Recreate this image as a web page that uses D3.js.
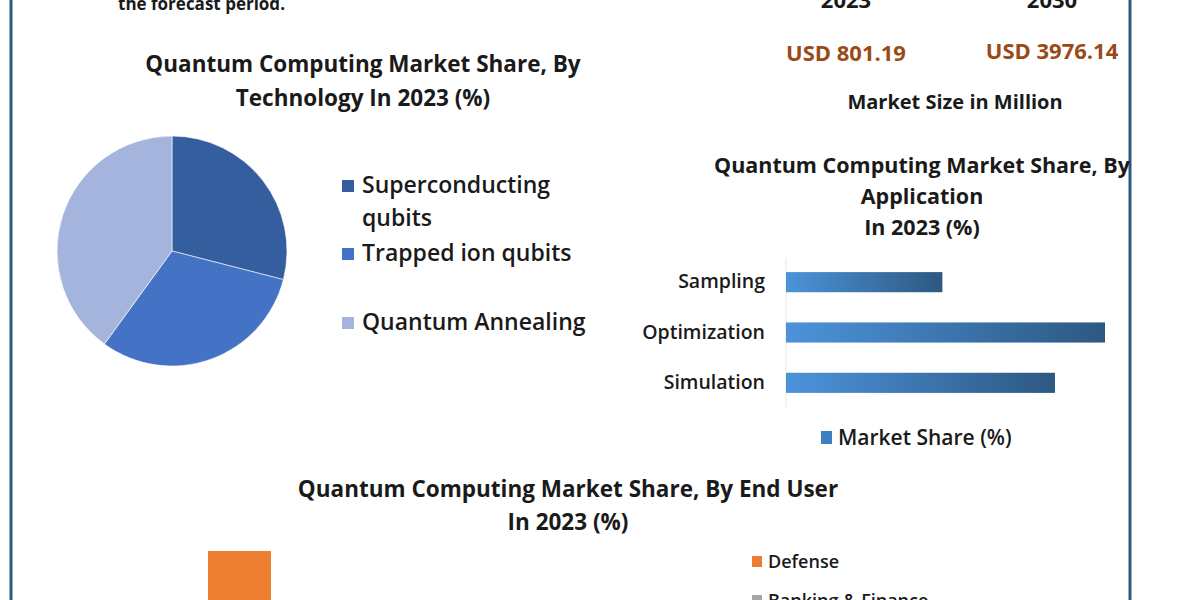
<!DOCTYPE html>
<html>
<head>
<meta charset="utf-8">
<script src="https://cdn.jsdelivr.net/npm/d3@7"></script>
<style>
  body { margin: 0; background: #fff; }
  svg { display: block; font-family: "Open Sans", sans-serif; }
</style>
</head>
<body>
<svg id="chart" width="1200" height="600"></svg>
<script>
// Technology pie
const techNames = ["Superconducting qubits", "Trapped ion qubits", "Quantum Annealing"];
const techShare = [29, 31, 40];
const techColors = ["#345e9e", "#4472c4", "#a5b4dc"];

// Application bars
const appNames = ["Sampling", "Optimization", "Simulation"];
const appShare = [25, 51, 43];

// End user (only the top of the chart is visible)
const userNames = ["Defense", "Banking & Finance"];
const userShare = [38, 22];
const userColors = ["#ed7d31", "#a5a5a5"];

const sizeYears = ["2023", "2030"];
const sizeValues = ["USD 801.19", "USD 3976.14"];

const svg = d3.select("#chart");

// frame lines on the sides
svg.append("line").attr("x1", 11).attr("x2", 11).attr("y1", 0).attr("y2", 600)
  .attr("stroke", "#2b5a7e").attr("stroke-width", 3);
svg.append("line").attr("x1", 1130).attr("x2", 1130).attr("y1", 0).attr("y2", 600)
  .attr("stroke", "#2b5a7e").attr("stroke-width", 3);

function text(x, y, s, size, opts = {}) {
  return svg.append("text")
    .attr("x", x).attr("y", y)
    .attr("font-size", size)
    .attr("font-weight", opts.weight || "bold")
    .attr("fill", opts.fill || "#1a1a1a")
    .attr("text-anchor", opts.anchor || "start")
    .text(s);
}

// top text (cut off in the reference as well)
text(118, 10, "the forecast period.", 17);
sizeYears.forEach((y, i) => text([846, 1052][i], 8, y, 22, { anchor: "middle" }));
sizeValues.forEach((v, i) => text([846, 1052][i], [61, 59][i], v, 22, { anchor: "middle", fill: "#9b4a17" }));
text(955, 109, "Market Size in Million", 20, { anchor: "middle" });

// ---- pie ----
text(363, 72, "Quantum Computing Market Share, By", 22.5, { anchor: "middle" });
text(363, 106, "Technology In 2023 (%)", 22.5, { anchor: "middle" });

const pie = d3.pie().sort(null)(techShare);
const arc = d3.arc().innerRadius(0).outerRadius(115);
svg.append("g").attr("transform", "translate(172,251)")
  .selectAll("path").data(pie).join("path")
  .attr("d", arc)
  .attr("fill", (d, i) => techColors[i])
  .attr("stroke", "#fff").attr("stroke-width", 0.6);

const pieLegend = [
  { lines: ["Superconducting", "qubits"], y: 185 },
  { lines: ["Trapped ion qubits"], y: 253 },
  { lines: ["Quantum Annealing"], y: 322 }
];
pieLegend.forEach((l, i) => {
  svg.append("rect").attr("x", 342).attr("y", l.y - 5).attr("width", 12).attr("height", 12)
    .attr("fill", techColors[i]);
  l.lines.forEach((s, j) => text(362, l.y + 8 + j * 33, s, 23, { weight: 600 }));
});

// ---- application bars ----
text(922, 173, "Quantum Computing  Market Share, By", 21.5, { anchor: "middle" });
text(922, 204, "Application", 21.5, { anchor: "middle" });
text(922, 235, "In 2023 (%)", 21.5, { anchor: "middle" });

const grad = svg.append("defs").append("linearGradient").attr("id", "barGrad")
  .attr("gradientUnits", "objectBoundingBox");
grad.append("stop").attr("offset", "0%").attr("stop-color", "#4c93db");
grad.append("stop").attr("offset", "100%").attr("stop-color", "#2d5882");

const x = d3.scaleLinear().domain([0, 51]).range([786, 1105]);
const y = d3.scaleBand().domain(appNames).range([257, 408]).paddingInner(0.6).paddingOuter(0.3);

svg.append("line").attr("x1", 786).attr("x2", 786).attr("y1", 258).attr("y2", 408)
  .attr("stroke", "#e6e6e6");
svg.append("g").selectAll("rect").data(appNames).join("rect")
  .attr("x", x(0)).attr("y", d => y(d))
  .attr("width", (d, i) => x(appShare[i]) - x(0))
  .attr("height", y.bandwidth())
  .attr("fill", "url(#barGrad)");
appNames.forEach(d => text(765, y(d) + y.bandwidth() / 2 + 6, d, 19.5, { anchor: "end", weight: 600 }));

svg.append("rect").attr("x", 821).attr("y", 431).attr("width", 11).attr("height", 13).attr("fill", "#3f7fc1");
text(838, 445, "Market Share (%)", 21, { weight: 600 });

// ---- end user ----
text(568, 497, "Quantum Computing Market Share, By End User", 22.5, { anchor: "middle" });
text(568, 530, "In 2023 (%)", 22.5, { anchor: "middle" });

const yu = d3.scaleLinear().domain([0, 38]).range([760, 551]);
svg.append("g").selectAll("rect").data(userShare).join("rect")
  .attr("x", (d, i) => 208 + i * 90).attr("y", d => yu(d))
  .attr("width", 63).attr("height", d => yu(0) - yu(d))
  .attr("fill", (d, i) => userColors[i]);

userNames.forEach((n, i) => {
  const ly = 562 + i * 39;
  svg.append("rect").attr("x", 752).attr("y", ly - 6).attr("width", 10).attr("height", 11).attr("fill", userColors[i]);
  text(768, ly + 6, n, 18, { weight: 600 });
});
</script>
</body>
</html>
